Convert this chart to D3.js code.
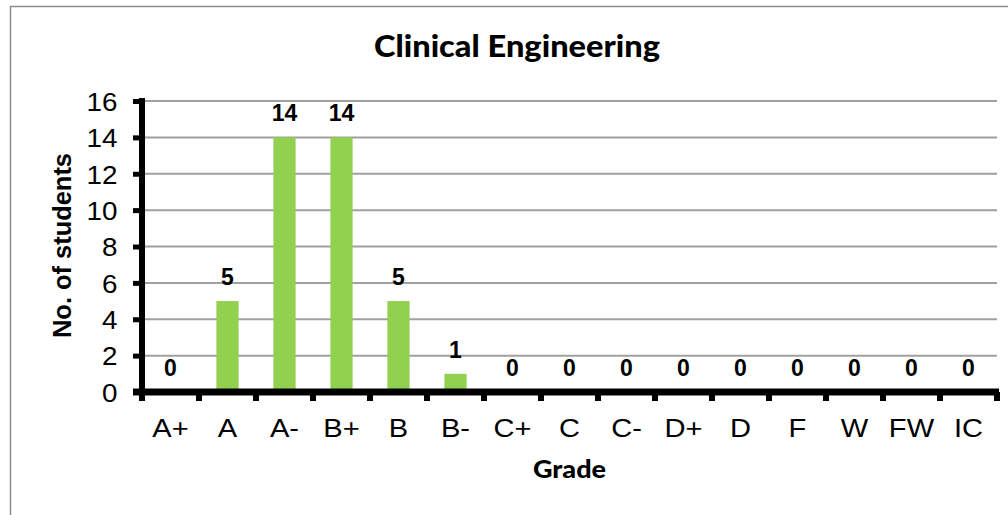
<!DOCTYPE html>
<html><head><meta charset="utf-8">
<script src="https://cdn.jsdelivr.net/npm/d3@7/dist/d3.min.js"></script>
<style>html,body{margin:0;padding:0;background:#fff;overflow:hidden}
.arial{font-family:"Liberation Sans",Arial,sans-serif}
.cal{font-family:Lato,"Open Sans",sans-serif}</style>
</head><body><svg id="c" width="1008" height="515"></svg>
<script>
const grades = ["A+","A","A-","B+","B","B-","C+","C","C-","D+","D","F","W","FW","IC"];
const students = [0,5,14,14,5,1,0,0,0,0,0,0,0,0,0];
const yTicks = [0,2,4,6,8,10,12,14,16];
const titleText = "Clinical Engineering";
const xTitle = "Grade";
const yTitle = "No. of students";

const svg = d3.select("#c");
const W = 1008, H = 515;
svg.append("rect").attr("width",W).attr("height",H).attr("fill","#fff");
// outer chart border (extends beyond the visible frame on right and bottom)
svg.append("rect").attr("x",10.5).attr("y",6.5).attr("width",1020).attr("height",530)
  .attr("fill","none").attr("stroke","#8c8c8c").attr("stroke-width",1.5);

const pL = 142, pR = 997, pT = 101, pB = 392;
const x = d3.scaleBand().domain(grades).range([pL,pR]).paddingInner(0.61).paddingOuter(0.305);
const xb = d3.scaleBand().domain(grades).range([pL,pR]);
const y = d3.scaleLinear().domain([0,16]).range([pB,pT]);

// gridlines
svg.append("g").selectAll("line").data(yTicks.filter(d=>d>0)).join("line")
  .attr("x1",pL).attr("x2",pR).attr("y1",d=>y(d)).attr("y2",d=>y(d))
  .attr("stroke","#a0a0a0").attr("stroke-width",2);

// bars
svg.append("g").selectAll("rect").data(grades).join("rect")
  .attr("x",d=>x(d)).attr("width",x.bandwidth())
  .attr("y",(d,i)=>y(students[i])).attr("height",(d,i)=>y(0)-y(students[i]))
  .attr("fill","#92d050");

// data labels
svg.append("g").selectAll("text").data(grades).join("text")
  .attr("class","arial")
  .attr("x",d=>xb(d)+xb.bandwidth()/2).attr("y",(d,i)=>y(students[i])-16)
  .attr("text-anchor","middle")
  .attr("font-weight","bold").attr("font-size",23).attr("fill","#000")
  .text((d,i)=>students[i]);

// y axis
const yAxis = svg.append("g").attr("transform",`translate(${pL},0)`)
  .call(d3.axisLeft(y).tickValues(yTicks).tickSize(7).tickPadding(16));
yAxis.attr("font-family",null).attr("font-size",null);
yAxis.select(".domain").attr("stroke","#000").attr("stroke-width",6).attr("d",`M0,${pT-3}V${pB}`);
yAxis.selectAll(".tick line").attr("stroke","#000").attr("stroke-width",5).attr("x2",-9);
yAxis.selectAll(".tick text").attr("class","arial")
  .attr("font-size",26).attr("fill","#000").attr("dy","0.36em")
  .attr("transform","scale(1.07,1)");

// x axis
const xAxis = svg.append("g").attr("transform",`translate(0,${pB})`)
  .call(d3.axisBottom(xb).tickSize(0).tickPadding(27));
xAxis.attr("font-family",null).attr("font-size",null);
xAxis.select(".domain").attr("stroke","#000").attr("stroke-width",7).attr("d",`M${pL-9},0H${pR+2}`);
const xt = xb.domain().map(d=>xb(d)).concat([pR]);
xAxis.append("g").selectAll("rect").data(xt).join("rect")
  .attr("x",d=>d-3).attr("y",0).attr("width",6).attr("height",9).attr("fill","#000");
xAxis.selectAll(".tick text").attr("class","arial")
  .attr("font-size",26).attr("fill","#000").attr("transform","scale(1.12,1)");

// titles
svg.append("text").attr("class","cal").attr("x",517).attr("y",57).attr("text-anchor","middle")
  .attr("font-weight","900").attr("font-size",30).attr("fill","#000")
  .attr("textLength",286).attr("lengthAdjust","spacingAndGlyphs").text(titleText);
svg.append("text").attr("class","cal").attr("x",(pL+pR)/2).attr("y",478).attr("text-anchor","middle")
  .attr("font-weight","900").attr("font-size",25).attr("fill","#000")
  .attr("textLength",73).attr("lengthAdjust","spacingAndGlyphs").text(xTitle);
svg.append("text").attr("class","arial").attr("transform",`translate(71,${(153+338)/2}) rotate(-90)`).attr("text-anchor","middle")
  .attr("font-weight","bold").attr("font-size",25).attr("fill","#000")
  .attr("textLength",185).attr("lengthAdjust","spacingAndGlyphs").text(yTitle);
</script></body></html>
